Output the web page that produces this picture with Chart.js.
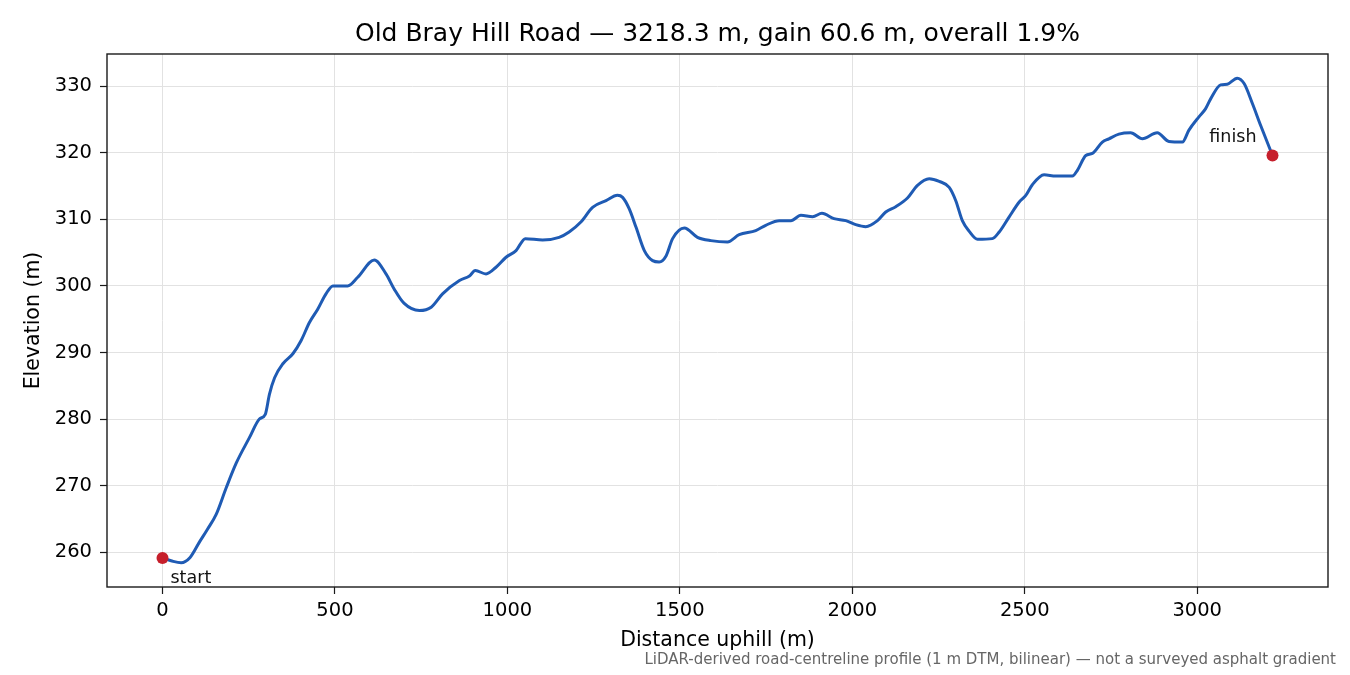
<!DOCTYPE html>
<html>
<head>
<meta charset="utf-8">
<script src="https://cdn.jsdelivr.net/npm/chart.js@4"></script>
<style>
  html, body { margin: 0; padding: 0; background: #fff; }
  #wrap { width: 1350px; height: 675px; }
</style>
</head>
<body>
<div id="wrap"><canvas id="c" width="1350" height="675"></canvas></div>
<script>
const distance = [0, 25, 54, 80, 107, 130, 156, 185, 214, 252, 281, 298, 310, 325, 349, 378, 402, 426, 450, 474,
  494, 537, 566, 614, 648, 672, 700, 745, 779, 812, 861, 890, 907, 938, 967, 996, 1025, 1052, 1102, 1150,
  1179, 1213, 1247, 1286, 1319, 1334, 1353, 1373, 1397, 1421, 1440, 1460, 1479, 1513, 1551, 1590, 1638, 1672, 1720, 1749,
  1788, 1822, 1851, 1885, 1912, 1947, 1981, 2010, 2039, 2073, 2097, 2126, 2160, 2189, 2223, 2252, 2281, 2300, 2319, 2339,
  2363, 2406, 2426, 2454, 2484, 2503, 2522, 2556, 2590, 2638, 2653, 2677, 2696, 2725, 2744, 2773, 2807, 2841, 2884, 2918,
  2957, 2976, 3005, 3024, 3039, 3068, 3087, 3116, 3136, 3160, 3184, 3218.3];
const elevation = [259.1, 258.7, 258.4, 259.2, 261.5, 263.4, 265.7, 269.7, 273.4, 277.2, 280.0, 280.7, 283.7, 286.2, 288.3, 289.8, 291.8, 294.5, 296.5, 298.8,
  300.0, 300.0, 301.3, 303.9, 301.8, 299.5, 297.4, 296.3, 296.8, 298.8, 300.8, 301.5, 302.3, 301.8, 302.8, 304.3, 305.3, 307.1, 306.9, 307.3,
  308.1, 309.6, 311.8, 312.8, 313.6, 313.3, 311.6, 308.8, 305.3, 303.8, 303.6, 304.5, 307.1, 308.7, 307.3, 306.8, 306.6, 307.7, 308.3, 309.1,
  309.8, 309.8, 310.6, 310.4, 310.9, 310.1, 309.8, 309.2, 308.9, 309.8, 311.1, 311.9, 313.2, 315.1, 316.1, 315.7, 314.8, 312.8, 309.8, 308.2,
  307.0, 307.1, 308.1, 310.3, 312.6, 313.6, 315.2, 316.7, 316.5, 316.5, 317.4, 319.6, 319.9, 321.6, 322.1, 322.8, 323.0, 322.1, 323.0, 321.7,
  321.6, 323.4, 325.4, 326.6, 328.1, 330.2, 330.3, 331.2, 330.4, 327.4, 324.1, 319.6];
const xTicks = [0, 500, 1000, 1500, 2000, 2500, 3000];
const yTicks = [260, 270, 280, 290, 300, 310, 320, 330];
const endLabels = ['start', 'finish'];

const titleText = 'Old Bray Hill Road \u2014 3218.3 m, gain 60.6 m, overall 1.9%';
const noteText = 'LiDAR-derived road-centreline profile (1 m DTM, bilinear) \u2014 not a surveyed asphalt gradient';
const FONT = '"DejaVu Sans", "Liberation Sans", sans-serif';

const points = distance.map((d, i) => ({ x: d, y: elevation[i] }));
const last = distance.length - 1;
const ends = [{ x: distance[0], y: elevation[0] }, { x: distance[last], y: elevation[last] }];

// matplotlib-like 5% margins
const xSpan = distance[last] - distance[0];
const yMin = Math.min(...elevation), yMax = Math.max(...elevation);
const ySpan = yMax - yMin;

const extras = {
  id: 'extras',
  afterDraw(chart) {
    const { ctx, chartArea: a, scales } = chart;
    ctx.save();
    ctx.strokeStyle = '#1a1a1a';
    ctx.lineWidth = 1.4;
    ctx.strokeRect(a.left, a.top, a.right - a.left, a.bottom - a.top);

    ctx.fillStyle = '#000';
    ctx.font = '25px ' + FONT;
    ctx.textAlign = 'center';
    ctx.textBaseline = 'middle';
    ctx.fillText(titleText, (a.left + a.right) / 2, 34);

    ctx.fillStyle = '#111';
    ctx.font = '17.5px ' + FONT;
    const sx = scales.x.getPixelForValue(ends[0].x), sy = scales.y.getPixelForValue(ends[0].y);
    ctx.textAlign = 'left';
    ctx.fillText(endLabels[0], sx + 8, sy + 20);
    const fx = scales.x.getPixelForValue(ends[1].x), fy = scales.y.getPixelForValue(ends[1].y);
    ctx.textAlign = 'right';
    ctx.fillText(endLabels[1], fx - 16, fy - 18);

    ctx.fillStyle = '#666';
    ctx.font = '15px ' + FONT;
    ctx.textAlign = 'right';
    ctx.fillText(noteText, 1336, 660);
    ctx.restore();
  }
};

new Chart(document.getElementById('c').getContext('2d'), {
  type: 'line',
  data: {
    datasets: [
      {
        data: points,
        order: 2,
        borderColor: '#1f5bb4',
        borderWidth: 3,
        pointRadius: 0,
        cubicInterpolationMode: 'monotone',
        fill: false
      },
      {
        data: ends,
        order: 1,
        showLine: false,
        pointRadius: 6,
        pointBackgroundColor: '#c61f2b',
        pointBorderColor: '#c61f2b',
        pointBorderWidth: 0
      }
    ]
  },
  options: {
    responsive: false,
    devicePixelRatio: 1,
    animation: false,
    layout: { padding: { left: 10, right: 22, top: 54, bottom: 0 } },
    plugins: { legend: { display: false }, tooltip: { enabled: false } },
    scales: {
      x: {
        type: 'linear',
        min: distance[0] - 0.05 * xSpan,
        max: distance[last] + 0.05 * xSpan,
        afterBuildTicks: s => { s.ticks = xTicks.map(v => ({ value: v })); },
        afterFit: s => { s.height = 88; },
        grid: { color: '#e2e2e2', lineWidth: 1, tickLength: 7, tickColor: '#1a1a1a', tickWidth: 1.2 },
        border: { display: false },
        ticks: { color: '#000', font: { family: FONT, size: 19.5 }, padding: 5, maxRotation: 0, autoSkip: false,
          callback: v => String(v) },
        title: { display: true, text: 'Distance uphill (m)', color: '#000', font: { family: FONT, size: 20.5 }, padding: { top: 0, bottom: 22 } }
      },
      y: {
        type: 'linear',
        min: yMin - 0.05 * ySpan,
        max: yMax + 0.05 * ySpan,
        afterBuildTicks: s => { s.ticks = yTicks.map(v => ({ value: v })); },
        afterFit: s => { s.width = 97; },
        grid: { color: '#e2e2e2', lineWidth: 1, tickLength: 7, tickColor: '#1a1a1a', tickWidth: 1.2 },
        border: { display: false },
        ticks: { color: '#000', font: { family: FONT, size: 19.5 }, padding: 8, autoSkip: false,
          callback: v => String(v) },
        title: { display: true, text: 'Elevation (m)', color: '#000', font: { family: FONT, size: 20.5 }, padding: { top: 11, bottom: 0 } }
      }
    }
  },
  plugins: [extras]
});
</script>
</body>
</html>
